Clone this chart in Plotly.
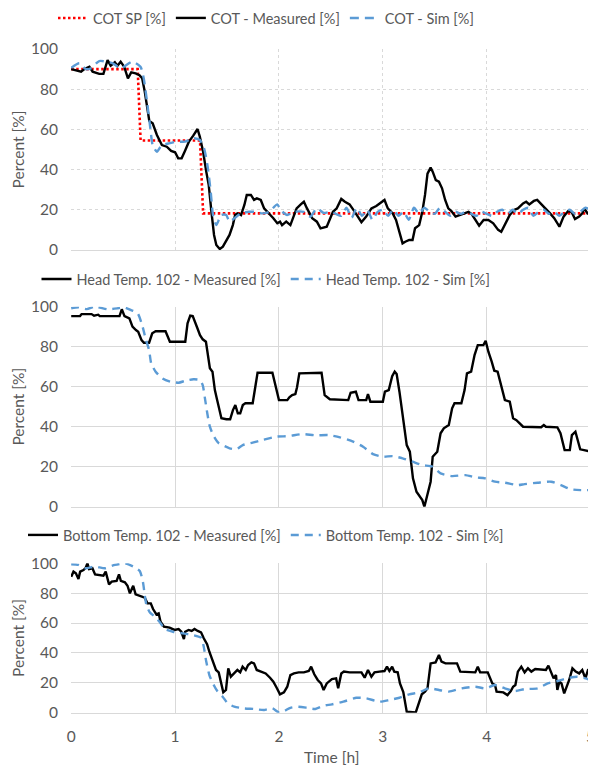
import plotly.graph_objects as go
from plotly.subplots import make_subplots

# ---------------- DATA ----------------
# COT setpoint
sp_t = [0, 0.64, 0.668, 1.24, 1.27, 5.0]
sp_v = [90, 90, 54.5, 54.5, 18.2, 18.2]

# COT measured
cotm_t = [0, 0.05, 0.095, 0.127, 0.175, 0.206, 0.27, 0.31, 0.333, 0.35, 0.38, 0.42, 0.445, 0.476, 0.51,
          0.546, 0.578, 0.62, 0.657, 0.683, 0.708, 0.73, 0.752, 0.784, 0.825, 0.873, 0.92, 0.962, 1.0,
          1.03, 1.063, 1.095, 1.133, 1.175, 1.2, 1.216, 1.238, 1.27, 1.3, 1.324, 1.35, 1.375, 1.397,
          1.43, 1.46, 1.49, 1.524, 1.556, 1.578, 1.6, 1.635, 1.667, 1.69, 1.73, 1.76, 1.787, 1.825,
          1.857, 1.905, 1.946, 1.984, 2.01, 2.03, 2.07, 2.11, 2.14, 2.17, 2.21, 2.24, 2.27, 2.32, 2.365,
          2.4, 2.46, 2.49, 2.52, 2.556, 2.6, 2.635, 2.68, 2.73, 2.76, 2.794, 2.84, 2.89, 2.937, 2.984,
          3.016, 3.048, 3.095, 3.127, 3.16, 3.19, 3.216, 3.254, 3.286, 3.31, 3.35, 3.38, 3.406, 3.43,
          3.46, 3.48, 3.51, 3.54, 3.57, 3.6, 3.63, 3.66, 3.7, 3.746, 3.794, 3.825, 3.857, 3.895, 3.927,
          3.97, 4.016, 4.063, 4.11, 4.14, 4.175, 4.222, 4.263, 4.3, 4.35, 4.38, 4.41, 4.454, 4.486,
          4.52, 4.57, 4.61, 4.65, 4.7, 4.74, 4.784, 4.816, 4.85, 4.89, 4.92, 4.94, 4.97, 5.0]
cotm_v = [90, 89.5, 88.7, 90, 91.2, 88.7, 87.6, 87.6, 92, 94.5, 91.7, 93.4, 91.7, 93.7, 91.2,
          85.4, 88.4, 87.9, 87, 85.4, 78.8, 70.5, 64.2, 63, 57.2, 52.2, 51.4, 49.3, 48.6,
          45.6, 45.6, 49.3, 53.9, 56.9, 58.9, 60.2, 56.4, 48.9, 39, 32.3, 19, 7.5, 2.5,
          0.5, 1.7, 4.1, 7.5, 12.4, 17.4, 18.2, 17.4, 22.4, 27.4, 27.4, 24.9, 25.7, 24.9,
          20.7, 18.2, 15.8, 13.3, 14.1, 12.4, 14.1, 12.4, 16.6, 20.7, 22.7, 24, 20.7, 15.8, 14.1,
          10.8, 11.6, 15.8, 19, 20.7, 25.4, 24, 22.7, 19, 16.6, 13.8, 16.6, 20.7, 21.9, 23.7,
          24.9, 20.7, 18.2, 14.9, 9.1, 3.3, 4.1, 5, 5, 10.8, 12.4, 19, 27.4, 38,
          41, 39, 34.8, 34, 30.7, 24.9, 20.7, 19.4, 16.6, 17.4, 18.2, 19, 17.7, 14.9, 12.1,
          14.9, 14.9, 13.3, 10, 9.1, 12.4, 17.4, 19.9, 20.7, 23.2, 24, 22.7, 24.4, 24.9,
          23.2, 20.7, 18.2, 15.8, 11.6, 16.6, 19.4, 19, 15.4, 16.6, 18.2, 20.7, 18.2, 19]

# COT simulated
cots_t = [0, 0.08, 0.14, 0.19, 0.27, 0.4, 0.476, 0.587, 0.667, 0.698, 0.73, 0.762, 0.784, 0.825,
          0.873, 0.937, 1.016, 1.095, 1.175, 1.238, 1.279, 1.311, 1.343, 1.365, 1.397, 1.444, 1.492,
          1.524, 1.571, 1.635, 1.714, 1.778, 1.84, 1.905, 1.984, 2.016, 2.079, 2.143, 2.238, 2.302,
          2.365, 2.43, 2.5, 2.6, 2.65, 2.7, 2.75, 2.8, 2.85, 2.9, 2.95, 3.0, 3.05, 3.1, 3.15, 3.2,
          3.25, 3.3, 3.35, 3.4, 3.45, 3.5, 3.55, 3.6, 3.65, 3.7, 3.75, 3.8, 3.85, 3.9, 3.95, 4.0,
          4.05, 4.1, 4.15, 4.2, 4.25, 4.3, 4.35, 4.4, 4.45, 4.5, 4.55, 4.6, 4.65, 4.7, 4.75, 4.8,
          4.85, 4.9, 4.95, 5.0]
cots_v = [90.7, 92.9, 90, 90.4, 94, 92.9, 90.4, 93.7, 91.2, 85.4, 73.8, 60.5, 52.2, 48.9,
          52.2, 53, 53.9, 53.9, 55.6, 54.7, 50.6, 42.3, 29, 17.4, 12.4, 17.4, 17.4,
          14.1, 15.8, 18.2, 19, 19, 18.2, 19, 22.7, 19.9, 17.4, 19, 19, 16.6,
          20.7, 18.5, 19, 17, 21, 16, 21, 17, 20, 15, 19, 20, 17, 20, 17, 19,
          15, 21, 18, 21, 19, 18, 21, 19, 17, 19, 18, 19, 18, 17, 19, 18,
          17, 19, 20, 18, 20, 18, 20, 21, 17, 19, 20, 18, 19, 17, 19, 20,
          18, 19, 21, 20]

# Head temperature 102 measured
headm_t = [0, 0.085, 0.1, 0.196, 0.22, 0.26, 0.275, 0.465, 0.487, 0.513, 0.56, 0.59, 0.623, 0.645,
           0.677, 0.7, 0.75, 0.78, 0.813, 0.908, 0.95, 1.098, 1.12, 1.146, 1.17, 1.193, 1.215, 1.24,
           1.266, 1.297, 1.32, 1.335, 1.36, 1.383, 1.405, 1.424, 1.446, 1.494, 1.53, 1.557, 1.58,
           1.604, 1.627, 1.652, 1.677, 1.747, 1.772, 1.794, 1.937, 1.968, 2.0, 2.08, 2.1, 2.127,
           2.158, 2.174, 2.196, 2.41, 2.44, 2.49, 2.667, 2.69, 2.74, 2.766, 2.84, 2.857, 2.88, 3.0,
           3.02, 3.057, 3.09, 3.114, 3.133, 3.16, 3.184, 3.21, 3.23, 3.26, 3.29, 3.324, 3.356, 3.38,
           3.4, 3.43, 3.46, 3.48, 3.524, 3.556, 3.587, 3.635, 3.667, 3.69, 3.756, 3.787, 3.81, 3.85,
           3.883, 3.914, 3.968, 3.99, 4.016, 4.048, 4.073, 4.105, 4.143, 4.175, 4.222, 4.254, 4.286,
           4.35, 4.524, 4.55, 4.57, 4.68, 4.71, 4.75, 4.8, 4.82, 4.854, 4.9, 4.937, 5.0]
headm_v = [95.3, 95.3, 96.3, 96.3, 95.5, 96, 95.3, 95.3, 98.7, 95.3, 94.2, 90, 88.3, 87.5,
           83.3, 82, 82, 86.7, 87.7, 87.7, 82.5, 82.5, 91.7, 95.5, 95.3, 91.7, 89.2, 85.8,
           83.7, 82.5, 74.2, 69.2, 67.5, 58.3, 53.3, 48.3, 44.2, 43.7, 43.7, 48.3, 50.8,
           46.7, 46.7, 50.8, 51.7, 51.7, 60, 67, 67, 60, 53.3, 53.3, 54.7, 55.8,
           56.3, 59.7, 66.7, 67, 55.8, 53.7, 53.3, 57, 57.5, 53.3, 53.3, 56.3, 52.5, 52.5,
           57.5, 58.3, 65.3, 67.5, 66.3, 57.5, 48.3, 36.7, 30.8, 27.5, 14.2, 7.5, 5, 3.3,
           0, 5.8, 12.5, 25, 27.5, 36.7, 39.2, 40.8, 49.2, 51.7, 51.7, 58.3, 66.7, 67.5,
           75.8, 80.8, 80.8, 83, 77.5, 72.5, 68, 67.5, 60, 53.3, 52.5, 44.2, 43.3,
           40, 39.7, 40.8, 40, 39.7, 36.7, 28.3, 28.3, 35.8, 37.5, 28.7, 28.3, 27.5]

# Head temperature 102 simulated
heads_t = [0, 0.07, 0.15, 0.23, 0.354, 0.45, 0.51, 0.576, 0.64, 0.687, 0.72, 0.75, 0.77, 0.813,
           0.877, 0.956, 1.035, 1.1, 1.177, 1.24, 1.266, 1.29, 1.31, 1.335, 1.367, 1.415, 1.478,
           1.525, 1.59, 1.652, 1.747, 1.84, 1.968, 2.095, 2.22, 2.35, 2.475, 2.587, 2.714, 2.81,
           2.905, 3.0, 3.095, 3.19, 3.286, 3.38, 3.476, 3.556, 3.667, 3.794, 3.89, 3.984, 4.08,
           4.175, 4.3, 4.365, 4.49, 4.62, 4.714, 4.81, 4.905, 5.0]
heads_v = [99.2, 99.7, 98.8, 100, 98.7, 99.2, 99.7, 98.3, 96.7, 90, 83.3, 78.3, 71.7, 67.5,
           64.2, 62.5, 62, 63, 63.7, 63.3, 60.8, 53.3, 46.7, 40, 35.8, 32, 30.3,
           29.2, 28.7, 30.8, 32, 33.3, 35, 35.3, 36.3, 35.7, 35.8, 34.7, 32.5, 30,
           26.3, 25, 25.3, 24.2, 22.5, 20.8, 20, 16.7, 15.3, 15.8, 14.7, 14.2, 12.5,
           12, 10.8, 11.3, 12, 12.5, 10.8, 8.7, 8.3, 8.3]

# Bottom temperature 102 measured
botm_t = [0, 0.022, 0.045, 0.07, 0.086, 0.118, 0.14, 0.156, 0.172, 0.204, 0.23, 0.278, 0.31, 0.332,
          0.364, 0.39, 0.437, 0.46, 0.478, 0.517, 0.542, 0.565, 0.597, 0.62, 0.66, 0.708, 0.734,
          0.766, 0.788, 0.82, 0.842, 0.86, 0.893, 0.947, 0.995, 1.034, 1.06, 1.085, 1.097, 1.13,
          1.16, 1.187, 1.218, 1.25, 1.276, 1.308, 1.33, 1.362, 1.394, 1.42, 1.442, 1.464, 1.49,
          1.512, 1.537, 1.57, 1.6, 1.627, 1.65, 1.68, 1.703, 1.735, 1.76, 1.786, 1.825, 1.872,
          1.914, 1.946, 1.978, 2.01, 2.048, 2.08, 2.11, 2.144, 2.19, 2.24, 2.287, 2.31, 2.34,
          2.373, 2.405, 2.43, 2.46, 2.51, 2.55, 2.57, 2.6, 2.625, 2.68, 2.794, 2.825, 2.857, 2.89,
          2.92, 2.968, 3.016, 3.04, 3.063, 3.09, 3.11, 3.143, 3.165, 3.197, 3.216, 3.23, 3.317,
          3.343, 3.375, 3.406, 3.43, 3.46, 3.508, 3.54, 3.565, 3.603, 3.714, 3.746, 3.89, 3.914,
          3.937, 4.01, 4.03, 4.054, 4.08, 4.095, 4.16, 4.2, 4.232, 4.254, 4.276, 4.3, 4.333,
          4.365, 4.397, 4.43, 4.467, 4.524, 4.57, 4.594, 4.62, 4.644, 4.667, 4.68, 4.7, 4.72,
          4.746, 4.77, 4.794, 4.825, 4.857, 4.89, 4.92, 4.95, 4.975, 5.0]
botm_v = [91, 94.4, 93.3, 89.5, 94.4, 95.5, 97, 100, 96.2, 96.7, 92.6, 92.2, 91.7, 94.4,
          85.9, 87.7, 88.2, 92.6, 88.2, 87.3, 85, 79.9, 85, 79.2, 78.3, 77, 73.2,
          73.2, 69.4, 65.8, 66.5, 60.9, 57.6, 56.9, 55.4, 56, 54.2, 49.3, 54.2, 55.4,
          54.7, 56, 54.7, 53.8, 49.8, 45.8, 40.8, 34.2, 28.6, 27, 20.8, 13.6, 15.2,
          29.7, 24.1, 26.3, 28.6, 27, 30.8, 28.6, 31.9, 33.7, 33, 28.6, 27.5, 26.3,
          23.4, 20.8, 16.7, 12.3, 13.6, 17.4, 25.2, 26.3, 27, 27, 27.9, 30.8, 25.7,
          21.9, 19.6, 15.2, 19.6, 22.5, 23, 16.3, 26.3, 27.5, 27, 27, 23.4, 28.6, 24.1,
          27, 27.5, 27.9, 30.8, 27.9, 30.8, 27.5, 27, 19.6, 13.8, 7.1, 0.7, 0.2,
          5.1, 12.3, 14.1, 16.3, 33, 33.7, 38.6, 34.2, 33, 33, 27.5, 27, 30.8,
          27, 27, 23.4, 19.6, 18.5, 14.1, 13.6, 11.8, 14.5, 17.4, 18.5, 27.5, 30.8,
          27, 29.7, 27.5, 29.2, 28.6, 28.6, 31.5, 26.3, 23, 25.2, 15.2, 20.8, 19.6,
          12.9, 17.4, 21.9, 29.7, 27.5, 26.3, 28.6, 23, 28.6, 29.7]

# Bottom temperature 102 simulated
bots_t = [0, 0.07, 0.134, 0.23, 0.325, 0.42, 0.517, 0.597, 0.66, 0.69, 0.708, 0.724, 0.756, 0.804,
          0.85, 0.9, 0.98, 1.075, 1.17, 1.25, 1.276, 1.3, 1.33, 1.372, 1.41, 1.458, 1.506, 1.57,
          1.665, 1.76, 1.856, 1.936, 2.0, 2.05, 2.11, 2.175, 2.27, 2.35, 2.43, 2.51, 2.62, 2.746,
          2.84, 2.968, 3.063, 3.16, 3.254, 3.35, 3.444, 3.54, 3.635, 3.76, 3.89, 3.984, 4.08,
          4.175, 4.27, 4.365, 4.49, 4.587, 4.68, 4.77, 4.87, 4.95, 5.0]
bots_v = [99.3, 98.9, 96.7, 97.8, 96.7, 98.9, 100, 97.8, 94.9, 87.7, 78.8, 72.1, 67.2, 64.3,
          60.9, 56, 54.2, 53.1, 52, 50.2, 44.2, 34.2, 25.2, 18.5, 14.1, 10.7, 6.3, 4,
          2.9, 2.5, 1.8, 2.9, 0.2, 1.1, 3.3, 4, 3.3, 2.5, 4.7, 5.6, 7.4, 10,
          9.6, 7.4, 8.5, 10, 12.3, 13.6, 16.3, 15.2, 14.1, 16.3, 17.4, 16.3, 18.5,
          16.3, 14.5, 15.8, 16.3, 19.6, 21.2, 23, 24.1, 23, 21.9]

x_ticks = [0, 1, 2, 3, 4, 5]
y_ticks = [0, 20, 40, 60, 80, 100]

# ---------------- FIGURE ----------------
FONT = "Lato, Carlito, 'Liberation Sans', sans-serif"
TXT = "#595959"
GRID = "#d9d9d9"
BLUE = "#5B9BD5"

# page body has an 8px margin: figure drawn at (8, 8) in the window
OFF = 8
W = 596 - OFF
H = 765 - OFF


def py(win_y):
    """window pixel y -> paper fraction"""
    return 1 - (win_y - OFF) / H


fig = make_subplots(rows=3, cols=1, shared_xaxes=False, vertical_spacing=0.05)

lw = 2.4
fig.add_trace(go.Scatter(x=sp_t, y=sp_v, mode="lines", name="COT SP [%]",
                         line=dict(color="#FF0000", width=2.6, dash="2.5px,2.5px"),
                         legend="legend"), row=1, col=1)
fig.add_trace(go.Scatter(x=cotm_t, y=cotm_v, mode="lines", name="COT - Measured [%]",
                         line=dict(color="black", width=lw), legend="legend"), row=1, col=1)
fig.add_trace(go.Scatter(x=cots_t, y=cots_v, mode="lines", name="COT - Sim [%]",
                         line=dict(color=BLUE, width=lw, dash="9px,6px", shape="spline", smoothing=0.6),
                         legend="legend"), row=1, col=1)

fig.add_trace(go.Scatter(x=headm_t, y=headm_v, mode="lines", name="Head Temp. 102 - Measured [%]",
                         line=dict(color="black", width=lw), legend="legend2"), row=2, col=1)
fig.add_trace(go.Scatter(x=heads_t, y=heads_v, mode="lines", name="Head Temp. 102 - Sim [%]",
                         line=dict(color=BLUE, width=lw, dash="8px,6px", shape="spline", smoothing=0.6),
                         legend="legend2"), row=2, col=1)

fig.add_trace(go.Scatter(x=botm_t, y=botm_v, mode="lines", name="Bottom Temp. 102 - Measured [%]",
                         line=dict(color="black", width=lw), legend="legend3"), row=3, col=1)
fig.add_trace(go.Scatter(x=bots_t, y=bots_v, mode="lines", name="Bottom Temp. 102 - Sim [%]",
                         line=dict(color=BLUE, width=lw, dash="8px,6px", shape="spline", smoothing=0.6),
                         legend="legend3"), row=3, col=1)

doms = [(py(250), py(49)), (py(506.7), py(306.7)), (py(712.7), py(563.3))]
for i, d in enumerate(doms, start=1):
    fig.update_yaxes(domain=list(d), row=i, col=1)

common_axis = dict(gridcolor=GRID, gridwidth=1, zeroline=False,
                   tickfont=dict(family=FONT, size=15.5, color=TXT), automargin=False)
for i in range(1, 4):
    gd = "dot" if i == 1 else "solid"
    fig.update_xaxes(range=[-0.002, 5.004], tickvals=x_ticks, showticklabels=(i == 3),
                     showline=True, linecolor=GRID, linewidth=1.3, griddash=gd, ticks="",
                     ticklabelstandoff=10, ticklabeloverflow="allow",
                     row=i, col=1, **common_axis)
    fig.update_yaxes(range=[0, 100], tickvals=y_ticks, showline=False, griddash=gd, ticks="",
                     ticklabelstandoff=12,
                     title=dict(text="Percent [%]", font=dict(family=FONT, size=15.5, color=TXT), standoff=2),
                     row=i, col=1, **common_axis)

# x-axis title of the bottom panel
fig.add_annotation(text="Time [h]", xref="paper", yref="paper", x=0.5, y=py(757),
                   xanchor="center", yanchor="middle", showarrow=False,
                   font=dict(family=FONT, size=15.5, color=TXT))

leg_common = dict(orientation="h", xref="container", yref="container", xanchor="center",
                  yanchor="middle", font=dict(family=FONT, size=14.5, color=TXT),
                  bgcolor="rgba(0,0,0,0)", itemwidth=30, tracegroupgap=0)
fig.update_layout(
    width=W, height=H,
    margin=dict(l=71 - OFF, r=5, t=0, b=0, autoexpand=False),
    paper_bgcolor="white", plot_bgcolor="white",
    showlegend=True,
    legend=dict(x=(266 - OFF) / W, y=py(18), **leg_common),
    legend2=dict(x=(266 - OFF) / W, y=py(279), **leg_common),
    legend3=dict(x=(266 - OFF) / W, y=py(535), **leg_common),
    font=dict(family=FONT, color=TXT),
)

fig.write_html("out.html")
